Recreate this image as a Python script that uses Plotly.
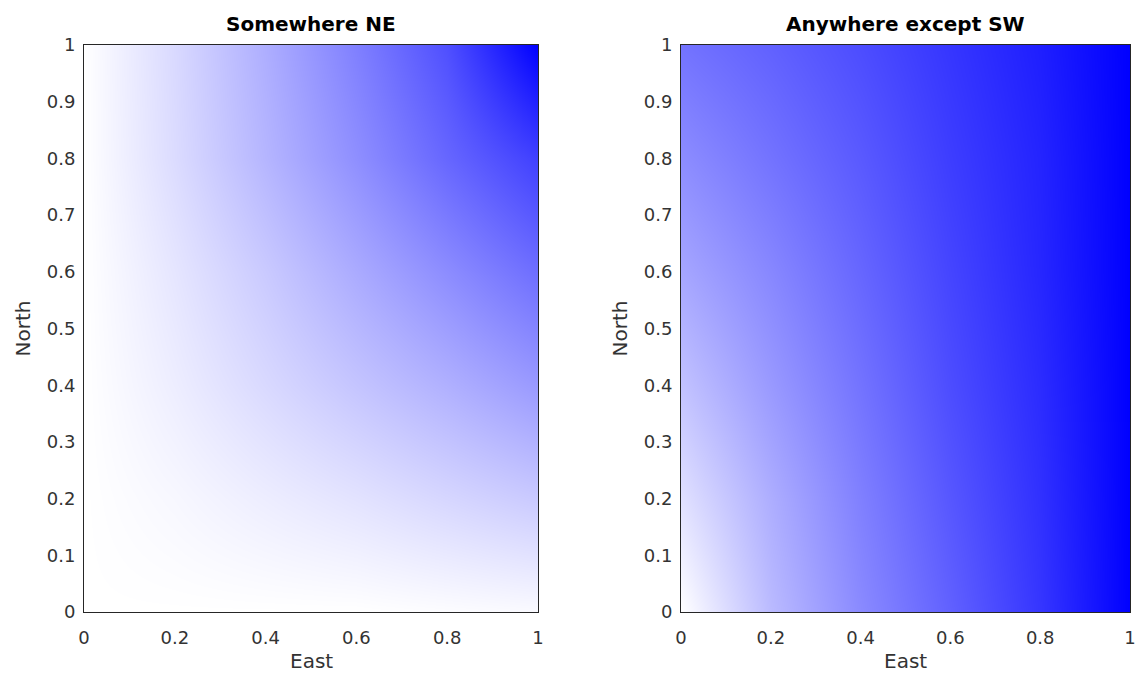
import plotly.graph_objects as go

# grid coordinates (East, North)
east = [0.0, 0.2, 0.4, 0.6, 0.8, 1.0]
north = [0.0, 0.2, 0.4, 0.6, 0.8, 1.0]

# "Somewhere NE" membership values (rows = North, cols = East)
ne_values = [
    [0.00, 0.00, 0.00, 0.00, 0.01, 0.02],
    [0.00, 0.03, 0.07, 0.11, 0.16, 0.21],
    [0.00, 0.07, 0.15, 0.23, 0.31, 0.40],
    [0.00, 0.10, 0.21, 0.33, 0.45, 0.57],
    [0.00, 0.14, 0.29, 0.44, 0.60, 0.75],
    [0.00, 0.15, 0.32, 0.50, 0.69, 1.00],
]

# "Anywhere except SW" membership values
not_sw_values = [
    [0.00, 0.27, 0.46, 0.62, 0.79, 1.00],
    [0.12, 0.32, 0.50, 0.66, 0.81, 1.00],
    [0.24, 0.40, 0.55, 0.70, 0.83, 1.00],
    [0.35, 0.47, 0.60, 0.73, 0.85, 1.00],
    [0.45, 0.55, 0.65, 0.76, 0.86, 1.00],
    [0.55, 0.62, 0.70, 0.79, 0.88, 1.00],
]

titles = ["Somewhere NE", "Anywhere except SW"]
x_label = "East"
y_label = "North"
x_ticks = [0, 0.2, 0.4, 0.6, 0.8, 1]
y_ticks = [0, 0.1, 0.2, 0.3, 0.4, 0.5, 0.6, 0.7, 0.8, 0.9, 1]

W, H = 1135, 684
colorscale = [[0, "#ffffff"], [1, "#0000ff"]]
FONT = "DejaVu Sans, Arial, sans-serif"
TXT = "#333333"

fig = go.Figure()
fig.add_trace(go.Heatmap(x=east, y=north, z=ne_values, colorscale=colorscale,
                         zmin=0, zmax=1, zsmooth="best", showscale=False,
                         xaxis="x", yaxis="y"))
fig.add_trace(go.Heatmap(x=east, y=north, z=not_sw_values, colorscale=colorscale,
                         zmin=0, zmax=1, zsmooth="best", showscale=False,
                         xaxis="x2", yaxis="y2"))

# page pixel positions of the axes boxes
doms_px = [(84, 538), (681, 1130)]
top_px, bot_px = 45, 612
ydom = [(H - bot_px) / H, (H - top_px) / H]

common_x = dict(range=[0, 1], tickvals=x_ticks, ticktext=[f"{v:g}" for v in x_ticks],
                showgrid=False, zeroline=False, showline=True, mirror=True,
                linecolor="#262626", linewidth=1, ticks="", ticklabelstandoff=9,
                ticklabeloverflow="allow",
                tickfont=dict(size=18, color=TXT, family=FONT),
                automargin=False, fixedrange=True)
common_y = dict(range=[0, 1], tickvals=y_ticks, ticktext=[f"{v:g}" for v in y_ticks],
                showgrid=False, zeroline=False, showline=True, mirror=True,
                linecolor="#262626", linewidth=1, ticks="", ticklabelstandoff=4,
                tickfont=dict(size=18, color=TXT, family=FONT),
                automargin=False, fixedrange=True)

layout = dict(width=W, height=H, margin=dict(l=0, r=0, t=0, b=0, pad=0),
              paper_bgcolor="white", plot_bgcolor="white", showlegend=False)
annotations = []
for i, (a, b) in enumerate(doms_px):
    sx = "" if i == 0 else str(i + 1)
    layout["xaxis" + sx] = dict(common_x, domain=[a / W, b / W], anchor="y" + sx)
    layout["yaxis" + sx] = dict(common_y, domain=ydom, anchor="x" + sx)
    cx = (a + b) / 2 / W
    annotations.append(dict(text=f"<b>{titles[i]}</b>", x=cx, y=(H - 24) / H,
                            xref="paper", yref="paper", xanchor="center", yanchor="middle",
                            showarrow=False,
                            font=dict(size=20, color="#000000", family=FONT)))
    annotations.append(dict(text=x_label, x=cx, y=(H - 661) / H,
                            xref="paper", yref="paper", xanchor="center", yanchor="middle",
                            showarrow=False, font=dict(size=20, color=TXT, family=FONT)))
    annotations.append(dict(text=y_label, x=(a - 62) / W, y=(ydom[0] + ydom[1]) / 2,
                            xref="paper", yref="paper", xanchor="center", yanchor="middle",
                            textangle=-90, showarrow=False,
                            font=dict(size=20, color=TXT, family=FONT)))
layout["annotations"] = annotations
fig.update_layout(**layout)
fig.write_html("out.html", config={"displayModeBar": False},
               post_script="document.body.style.margin='0';document.body.style.overflow='hidden';")
